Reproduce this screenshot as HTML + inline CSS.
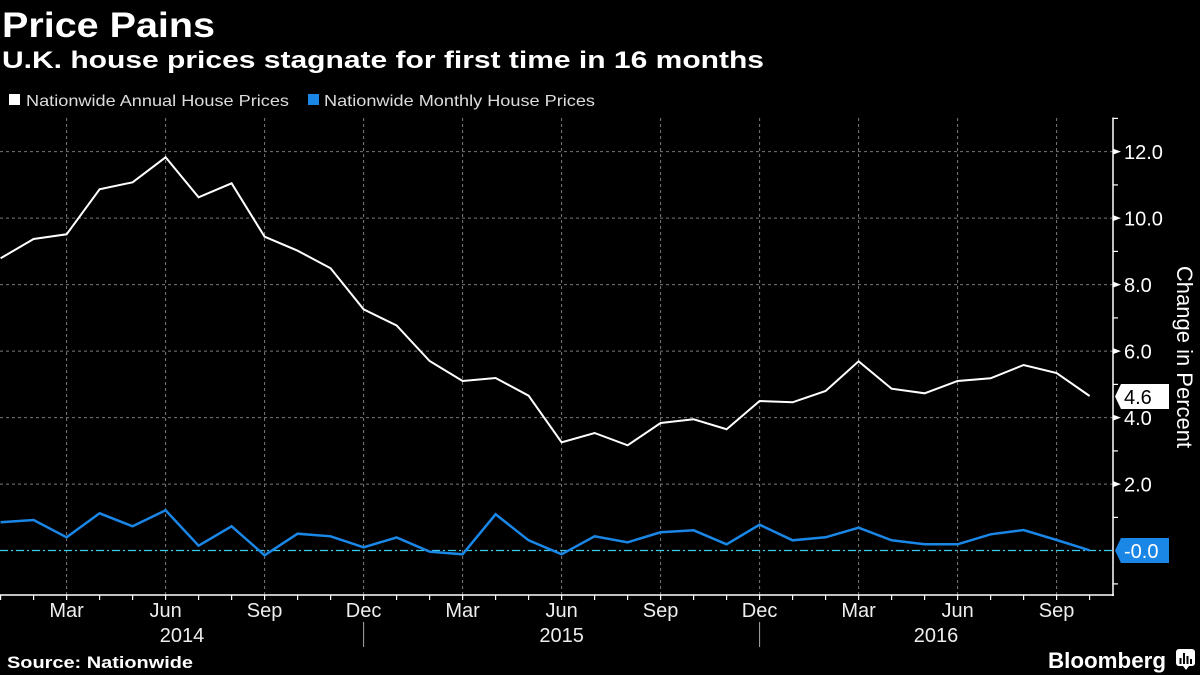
<!DOCTYPE html>
<html>
<head>
<meta charset="utf-8">
<style>
html,body{margin:0;padding:0;background:#000;}
svg{display:block;}
text{font-family:"Liberation Sans",sans-serif;}
</style>
</head>
<body>
<svg width="1200" height="675" viewBox="0 0 1200 675" xmlns="http://www.w3.org/2000/svg">
<rect width="1200" height="675" fill="#000"/>

<!-- Titles -->
<text x="2" y="37" font-size="35" font-weight="bold" fill="#fff" textLength="213" lengthAdjust="spacingAndGlyphs">Price Pains</text>
<text x="2" y="68" font-size="24" font-weight="bold" fill="#fff" textLength="762" lengthAdjust="spacingAndGlyphs">U.K. house prices stagnate for first time in 16 months</text>

<!-- Legend -->
<rect x="9" y="94" width="11" height="11" fill="#fff"/>
<text x="26" y="106" font-size="16" fill="#ddd" textLength="263" lengthAdjust="spacingAndGlyphs">Nationwide Annual House Prices</text>
<rect x="308" y="94" width="11" height="11" fill="#1a86e6"/>
<text x="324" y="106" font-size="16" fill="#ddd" textLength="271" lengthAdjust="spacingAndGlyphs">Nationwide Monthly House Prices</text>

<!-- Horizontal grid -->
<g stroke="#7a7a7a" stroke-width="1" stroke-dasharray="3,3">
<line x1="0" y1="484.1" x2="1113" y2="484.1"/>
<line x1="0" y1="417.6" x2="1113" y2="417.6"/>
<line x1="0" y1="351.1" x2="1113" y2="351.1"/>
<line x1="0" y1="284.6" x2="1113" y2="284.6"/>
<line x1="0" y1="218.1" x2="1113" y2="218.1"/>
<line x1="0" y1="151.6" x2="1113" y2="151.6"/>
</g>
<!-- Vertical grid -->
<g stroke="#7a7a7a" stroke-width="1" stroke-dasharray="3,3">
<line x1="66.6" y1="118" x2="66.6" y2="595"/>
<line x1="165.6" y1="118" x2="165.6" y2="595"/>
<line x1="264.6" y1="118" x2="264.6" y2="595"/>
<line x1="363.6" y1="118" x2="363.6" y2="595"/>
<line x1="462.6" y1="118" x2="462.6" y2="595"/>
<line x1="561.6" y1="118" x2="561.6" y2="595"/>
<line x1="660.6" y1="118" x2="660.6" y2="595"/>
<line x1="759.6" y1="118" x2="759.6" y2="595"/>
<line x1="858.6" y1="118" x2="858.6" y2="595"/>
<line x1="957.6" y1="118" x2="957.6" y2="595"/>
<line x1="1056.6" y1="118" x2="1056.6" y2="595"/>
</g>

<!-- Zero line -->
<line x1="0" y1="550.5" x2="1113" y2="550.5" stroke="#3cc9ea" stroke-width="1.3" stroke-dasharray="8,3,2,3"/>

<!-- Annual series -->
<polyline fill="none" stroke="#fff" stroke-width="2" stroke-linejoin="miter" points="
0.6,258.3 33.6,239 66.6,234.3 99.6,189.3 132.6,182.3 165.6,157.3 198.6,197.3 231.6,183.3 264.6,236.7 297.6,250.7 330.6,268.3 363.6,309.3 396.6,325.5 429.6,361 462.6,381 495.6,378 528.6,395.7 561.6,442.3 594.6,433 627.6,445.3 660.6,423 693.6,419.3 726.6,429.2 759.6,401 792.6,402.3 825.6,391 858.6,361.3 891.6,388.7 924.6,393.3 957.6,381 990.6,378.3 1023.6,365 1056.6,373 1089.6,396"/>

<!-- Monthly series -->
<polyline fill="none" stroke="#1a86e6" stroke-width="2.5" stroke-linejoin="miter" points="
0.6,522.3 33.6,520 66.6,537.3 99.6,513.3 132.6,526.3 165.6,510.3 198.6,545.7 231.6,526.3 264.6,555.3 297.6,533.7 330.6,536.3 363.6,547.3 396.6,537.5 429.6,551.7 462.6,554.3 495.6,514.3 528.6,540.3 561.6,554.3 594.6,536.3 627.6,542.3 660.6,532.3 693.6,530.3 726.6,544.3 759.6,524.7 792.6,540.3 825.6,537.3 858.6,527.7 891.6,540.3 924.6,544.3 957.6,544.3 990.6,534.3 1023.6,530 1056.6,540 1089.6,550.3"/>

<!-- Axes -->
<line x1="1113" y1="117.5" x2="1113" y2="596" stroke="#fff" stroke-width="1.5"/>
<line x1="0" y1="595" x2="1114" y2="595" stroke="#fff" stroke-width="1.5"/>

<!-- Y minor ticks -->
<g stroke="#fff" stroke-width="1.2">
<line x1="1113" y1="118.4" x2="1118" y2="118.4"/>
<line x1="1113" y1="184.9" x2="1118" y2="184.9"/>
<line x1="1113" y1="251.4" x2="1118" y2="251.4"/>
<line x1="1113" y1="317.9" x2="1118" y2="317.9"/>
<line x1="1113" y1="384.4" x2="1118" y2="384.4"/>
<line x1="1113" y1="450.9" x2="1118" y2="450.9"/>
<line x1="1113" y1="517.4" x2="1118" y2="517.4"/>
<line x1="1113" y1="583.9" x2="1118" y2="583.9"/>
</g>
<!-- Y major ticks (triangles) -->
<g fill="#fff">
<polygon points="1113,148.6 1121,151.6 1113,154.6"/>
<polygon points="1113,215.1 1121,218.1 1113,221.1"/>
<polygon points="1113,281.6 1121,284.6 1113,287.6"/>
<polygon points="1113,348.1 1121,351.1 1113,354.1"/>
<polygon points="1113,414.6 1121,417.6 1113,420.6"/>
<polygon points="1113,481.1 1121,484.1 1113,487.1"/>
</g>
<!-- Y labels -->
<g font-size="20" fill="#fff">
<text x="1124" y="159">12.0</text>
<text x="1124" y="225.5">10.0</text>
<text x="1124" y="292">8.0</text>
<text x="1124" y="358.5">6.0</text>
<text x="1124" y="425">4.0</text>
<text x="1124" y="491.5">2.0</text>
</g>
<text transform="translate(1177,357) rotate(90)" font-size="22" fill="#fff" text-anchor="middle">Change in Percent</text>

<!-- Value labels -->
<polygon points="1115,396.5 1121,384 1169,384 1169,409 1121,409" fill="#fff"/>
<text x="1124" y="404" font-size="20" fill="#000">4.6</text>
<polygon points="1115,550.5 1121,538 1169,538 1169,563 1121,563" fill="#1a86e6"/>
<text x="1124" y="558" font-size="20" fill="#fff">-0.0</text>

<!-- X month ticks -->
<g stroke="#fff" stroke-width="1.2">
<line x1="0.6" y1="595" x2="0.6" y2="600"/>
<line x1="33.6" y1="595" x2="33.6" y2="600"/>
<line x1="66.6" y1="595" x2="66.6" y2="600"/>
<line x1="99.6" y1="595" x2="99.6" y2="600"/>
<line x1="132.6" y1="595" x2="132.6" y2="600"/>
<line x1="165.6" y1="595" x2="165.6" y2="600"/>
<line x1="198.6" y1="595" x2="198.6" y2="600"/>
<line x1="231.6" y1="595" x2="231.6" y2="600"/>
<line x1="264.6" y1="595" x2="264.6" y2="600"/>
<line x1="297.6" y1="595" x2="297.6" y2="600"/>
<line x1="330.6" y1="595" x2="330.6" y2="600"/>
<line x1="363.6" y1="595" x2="363.6" y2="600"/>
<line x1="396.6" y1="595" x2="396.6" y2="600"/>
<line x1="429.6" y1="595" x2="429.6" y2="600"/>
<line x1="462.6" y1="595" x2="462.6" y2="600"/>
<line x1="495.6" y1="595" x2="495.6" y2="600"/>
<line x1="528.6" y1="595" x2="528.6" y2="600"/>
<line x1="561.6" y1="595" x2="561.6" y2="600"/>
<line x1="594.6" y1="595" x2="594.6" y2="600"/>
<line x1="627.6" y1="595" x2="627.6" y2="600"/>
<line x1="660.6" y1="595" x2="660.6" y2="600"/>
<line x1="693.6" y1="595" x2="693.6" y2="600"/>
<line x1="726.6" y1="595" x2="726.6" y2="600"/>
<line x1="759.6" y1="595" x2="759.6" y2="600"/>
<line x1="792.6" y1="595" x2="792.6" y2="600"/>
<line x1="825.6" y1="595" x2="825.6" y2="600"/>
<line x1="858.6" y1="595" x2="858.6" y2="600"/>
<line x1="891.6" y1="595" x2="891.6" y2="600"/>
<line x1="924.6" y1="595" x2="924.6" y2="600"/>
<line x1="957.6" y1="595" x2="957.6" y2="600"/>
<line x1="990.6" y1="595" x2="990.6" y2="600"/>
<line x1="1023.6" y1="595" x2="1023.6" y2="600"/>
<line x1="1056.6" y1="595" x2="1056.6" y2="600"/>
<line x1="1089.6" y1="595" x2="1089.6" y2="600"/>
</g>
<!-- X labels -->
<g font-size="20" fill="#eee" text-anchor="middle">
<text x="66.6" y="617">Mar</text>
<text x="165.6" y="617">Jun</text>
<text x="264.6" y="617">Sep</text>
<text x="363.6" y="617">Dec</text>
<text x="462.6" y="617">Mar</text>
<text x="561.6" y="617">Jun</text>
<text x="660.6" y="617">Sep</text>
<text x="759.6" y="617">Dec</text>
<text x="858.6" y="617">Mar</text>
<text x="957.6" y="617">Jun</text>
<text x="1056.6" y="617">Sep</text>
<text x="182" y="642">2014</text>
<text x="561.6" y="642">2015</text>
<text x="936" y="642">2016</text>
</g>
<g stroke="#aaa" stroke-width="1">
<line x1="363.6" y1="622" x2="363.6" y2="647"/>
<line x1="759.6" y1="622" x2="759.6" y2="647"/>
</g>

<!-- Footer -->
<text x="7" y="668" font-size="17" font-weight="bold" fill="#fff" textLength="186" lengthAdjust="spacingAndGlyphs">Source: Nationwide</text>
<text x="1048" y="668" font-size="22" font-weight="bold" fill="#fff" textLength="118" lengthAdjust="spacingAndGlyphs">Bloomberg</text>
<rect x="1176" y="649" width="19" height="17" rx="3" fill="#fff"/>
<polygon points="1183,666 1186,670 1189,666" fill="#fff"/>
<g fill="#000">
<rect x="1179.5" y="658" width="2" height="6"/>
<rect x="1183" y="653" width="2" height="11"/>
<rect x="1186.5" y="656" width="2" height="8"/>
<rect x="1190" y="659" width="2" height="5"/>
</g>
</svg>
</body>
</html>
